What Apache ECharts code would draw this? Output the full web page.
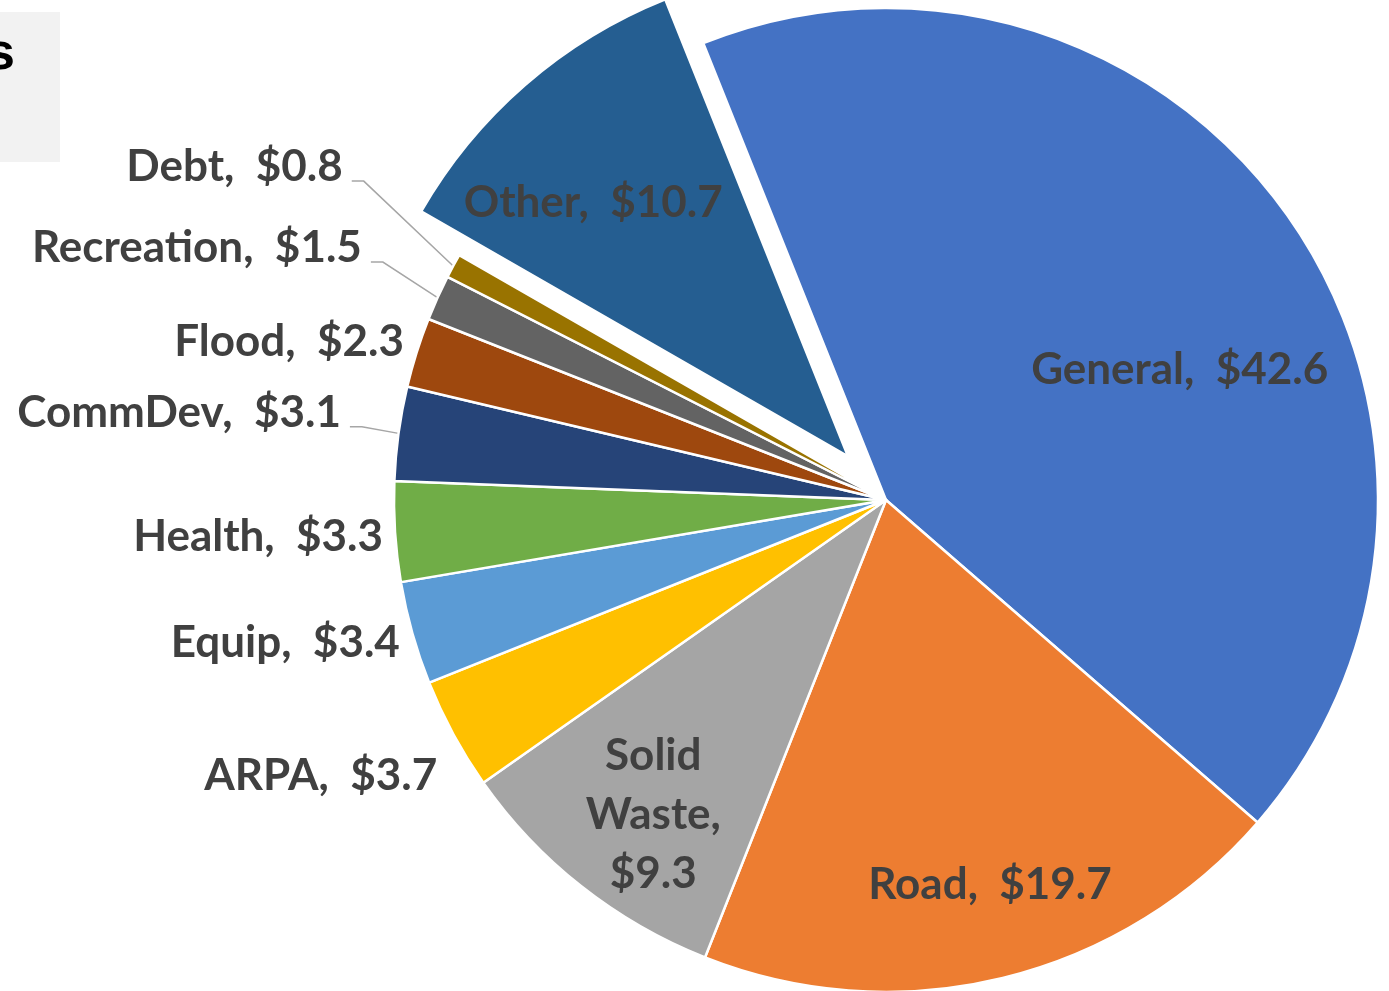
<!DOCTYPE html>
<html>
<head>
<meta charset="utf-8">
<script src="https://cdn.jsdelivr.net/npm/echarts@6/dist/echarts.min.js"></script>
<style>
html,body{margin:0;padding:0;background:#fff}
#chart{width:1389px;height:991px}
</style>
</head>
<body>
<div id="chart"></div>
<script>
const categories = ['General', 'Road', 'Solid Waste', 'ARPA', 'Equip', 'Health', 'CommDev', 'Flood', 'Recreation', 'Debt', 'Other']
const values = [42.6, 19.7, 9.3, 3.7, 3.4, 3.3, 3.1, 2.3, 1.5, 0.8, 10.7]
const colors = ['#4472C4', '#ED7D31', '#A5A5A5', '#FFC000', '#5B9BD5', '#70AD47', '#264478', '#9E480E', '#636363', '#997300', '#255E91']
const insideNames = ['General', 'Road', 'Solid Waste', 'Other']
const leaderNames = ['CommDev', 'Recreation', 'Debt']
const explodedName = 'Other'

// where each label sits: [radius factor, degrees off the slice middle]
const labelPolar = [[0.653, 11.5], [0.81, -1.4], [0.796, -1.8], [1.07, -3.1], [1.03, -0.7], [1.025, -0.5],
  [1.122, 1.3], [1.031, 0.7], [1.182, 1.4], [1.295, 3.1], [0.73, -4.2]]

const cx = 886, cy = 500, R = 492, startAngle = 111.8, explode = 58

const total = values.reduce((a, b) => a + b, 0)
const mids = []
let acc = 90 - startAngle
values.forEach(v => {
    const span = v / total * 360
    mids.push(acc + span / 2)
    acc += span
})
function pt(a, r, ox, oy){
    const t = a * Math.PI / 180
    return [ox + r * Math.sin(t), oy - r * Math.cos(t)]
}
// the pulled-out slice gets its own pie, moved along its middle angle
const explodedCenter = pt(mids[categories.indexOf(explodedName)], explode, cx, cy)

function makeLayout(ox, oy){
    return function(params){
        const i = params.dataIndex
        const name = categories[i]
        const p = pt(mids[i] + labelPolar[i][1], R * labelPolar[i][0], ox, oy)
        const inside = insideNames.includes(name)
        const res = {x: p[0], y: p[1], align: inside ? 'center' : 'right', verticalAlign: 'middle'}
        if (leaderNames.includes(name)) {
            res.labelLinePoints = [[p[0] + 9, p[1] + 14], [p[0] + 21, p[1] + 14], pt(mids[i], R, ox, oy)]
        }
        return res
    }
}

const labelBase = {
    show: true,
    position: 'outside',
    formatter: '{b},  ${c}',
    fontFamily: 'Lato',
    fontWeight: 'bold',
    fontSize: 44,
    color: '#404040'
}

function pieSeries(center, onlyExploded){
    return {
        type: 'pie',
        center: center,
        radius: R,
        startAngle: startAngle,
        clockwise: true,
        avoidLabelOverlap: false,
        silent: true,
        emphasis: {disabled: true},
        label: labelBase,
        labelLine: {show: false, lineStyle: {color: '#A6A6A6', width: 1.5}},
        labelLayout: makeLayout(center[0], center[1]),
        data: categories.map((name, i) => {
            const shown = onlyExploded ? name === explodedName : name !== explodedName
            const item = {name: name, value: values[i]}
            if (!shown) {
                item.itemStyle = {color: 'rgba(0,0,0,0)', borderWidth: 0}
                item.label = {show: false}
                return item
            }
            item.itemStyle = {color: colors[i], borderColor: '#fff', borderWidth: 2.5}
            if (insideNames.includes(name)) item.label = {position: 'inside'}
            if (name === 'Solid Waste') item.label = {position: 'inside', formatter: 'Solid\nWaste,\n${c}', lineHeight: 59}
            if (leaderNames.includes(name)) item.labelLine = {show: true}
            return item
        })
    }
}

const chart = echarts.init(document.getElementById('chart'))
const option = {
    animation: false,
    graphic: [
        {type: 'rect', shape: {x: 0, y: 12, width: 60, height: 150}, style: {fill: '#F2F2F2'}, silent: true},
        {type: 'text', style: {text: 's', x: 15, y: 55, align: 'right', verticalAlign: 'middle',
            font: 'bold 52px "Liberation Sans", Arial', fill: '#000'}, silent: true}
    ],
    series: [
        pieSeries([cx, cy], false),
        pieSeries(explodedCenter, true)
    ]
}
chart.setOption(option)
</script>
</body>
</html>
